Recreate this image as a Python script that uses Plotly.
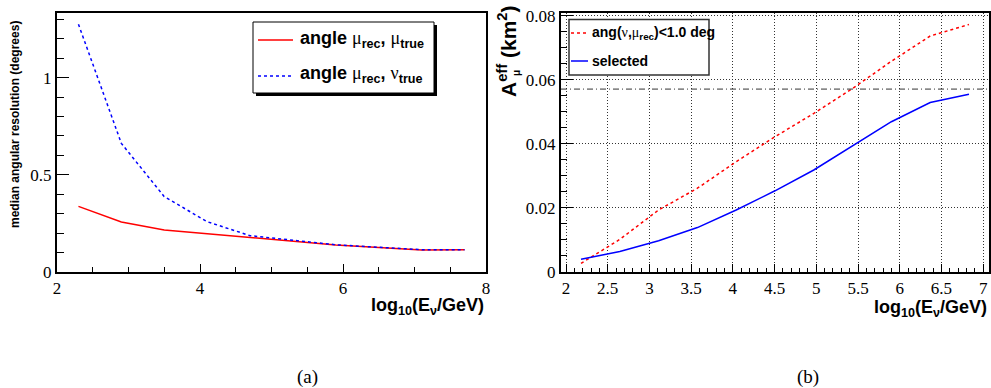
import plotly.graph_objects as go

# ---------------- data ----------------
# panel (a): median angular resolution vs log10(E/GeV)
res_x = [2.3, 2.9, 3.5, 4.1, 4.7, 5.3, 5.9, 6.5, 7.1, 7.7]
res_mu_mu = [0.338, 0.257, 0.216, 0.197, 0.178, 0.161, 0.139, 0.126, 0.113, 0.114]
res_mu_nu = [1.275, 0.662, 0.388, 0.259, 0.187, 0.162, 0.140, 0.127, 0.115, 0.115]

# panel (b): effective area vs log10(E/GeV)
aeff_x = [2.18, 2.645, 3.11, 3.575, 4.04, 4.505, 4.97, 5.435, 5.90, 6.365, 6.83]
aeff_ang = [0.0026, 0.0101, 0.0193, 0.0261, 0.0344, 0.0422, 0.0495, 0.0573, 0.0658, 0.0737, 0.0773]
aeff_sel = [0.0039, 0.0063, 0.0097, 0.0138, 0.0193, 0.0253, 0.0318, 0.0393, 0.0469, 0.0529, 0.0555]
aeff_ref_level = 0.0571

W, H = 991, 388


def fx(p):
    return p / W


def fy(p):
    return 1 - p / H


SERIF = "Liberation Serif, Times New Roman, serif"
SANS = "Liberation Sans, Arial, sans-serif"

fig = go.Figure()

fig.add_trace(go.Scatter(x=res_x, y=res_mu_mu, mode="lines",
                         line=dict(color="#ff0000", width=1.5),
                         xaxis="x", yaxis="y", showlegend=False))
fig.add_trace(go.Scatter(x=res_x, y=res_mu_nu, mode="lines",
                         line=dict(color="#0000ff", width=1.5, dash="dot"),
                         xaxis="x", yaxis="y", showlegend=False))
fig.add_trace(go.Scatter(x=aeff_x, y=aeff_ang, mode="lines",
                         line=dict(color="#ff0000", width=1.5, dash="dot"),
                         xaxis="x2", yaxis="y2", showlegend=False))
fig.add_trace(go.Scatter(x=aeff_x, y=aeff_sel, mode="lines",
                         line=dict(color="#0000ff", width=1.5),
                         xaxis="x2", yaxis="y2", showlegend=False))

common = dict(showline=True, mirror=True, linecolor="black", linewidth=2,
              ticks="inside", tickcolor="black", tickwidth=1,
              tickfont=dict(family=SERIF, size=17, color="black"),
              zeroline=False, automargin=False)

fig.update_layout(
    width=W, height=H, autosize=False,
    margin=dict(l=0, r=0, t=0, b=0, pad=0),
    paper_bgcolor="white", plot_bgcolor="white",
    font=dict(family=SERIF, size=17, color="black"),
    xaxis=dict(domain=[fx(57), fx(486)], range=[2, 8], anchor="y",
               tick0=2, dtick=2, ticklen=8, showgrid=False,
               minor=dict(dtick=0.5, ticklen=5, ticks="inside", tickcolor="black", showgrid=False),
               **common),
    yaxis=dict(domain=[fy(272), fy(13)], range=[0, 1.333], anchor="x",
               tick0=0, dtick=0.5, ticklen=12, showgrid=False,
               minor=dict(dtick=0.1, ticklen=7, ticks="inside", tickcolor="black", showgrid=False),
               **common),
    xaxis2=dict(domain=[fx(561), fx(989)], range=[1.94, 7.07], anchor="y2",
                tick0=2, dtick=0.5, ticklen=8,
                showgrid=True, gridcolor="#333333", griddash="1px,2px", gridwidth=1,
                minor=dict(dtick=0.1, ticklen=4, ticks="inside", tickcolor="black", showgrid=False),
                **common),
    yaxis2=dict(domain=[fy(271.7), fy(13.3)], range=[0, 0.0808], anchor="x2",
                tick0=0, dtick=0.02, ticklen=12,
                showgrid=True, gridcolor="#333333", griddash="1px,2px", gridwidth=1,
                minor=dict(dtick=0.005, ticklen=6, ticks="inside", tickcolor="black", showgrid=False),
                **common),
)

shapes = []
# reference level line (dash-dot) in panel b
shapes.append(dict(type="line", xref="x2 domain", yref="y2", x0=0, x1=1,
                   y0=aeff_ref_level, y1=aeff_ref_level,
                   line=dict(color="#333333", width=1, dash="6px,3px,1px,3px"), layer="above"))
# left legend: shadow + box
shapes.append(dict(type="rect", xref="paper", yref="paper",
                   x0=fx(256), x1=fx(437), y0=fy(96), y1=fy(25),
                   fillcolor="black", line=dict(width=0), layer="above"))
shapes.append(dict(type="rect", xref="paper", yref="paper",
                   x0=fx(253), x1=fx(434), y0=fy(93), y1=fy(22),
                   fillcolor="white", line=dict(color="black", width=1), layer="above"))
shapes.append(dict(type="line", xref="paper", yref="paper",
                   x0=fx(258), x1=fx(293), y0=fy(40), y1=fy(40),
                   line=dict(color="#ff0000", width=1.5), layer="above"))
shapes.append(dict(type="line", xref="paper", yref="paper",
                   x0=fx(258), x1=fx(293), y0=fy(76), y1=fy(76),
                   line=dict(color="#0000ff", width=1.5, dash="dot"), layer="above"))
# right legend box
shapes.append(dict(type="rect", xref="paper", yref="paper",
                   x0=fx(569), x1=fx(709), y0=fy(75), y1=fy(19.5),
                   fillcolor="white", line=dict(color="#333333", width=1.5), layer="above"))
shapes.append(dict(type="line", xref="paper", yref="paper",
                   x0=fx(571), x1=fx(588), y0=fy(33), y1=fy(33),
                   line=dict(color="#ff0000", width=1.5, dash="dot"), layer="above"))
shapes.append(dict(type="line", xref="paper", yref="paper",
                   x0=fx(571), x1=fx(588), y0=fy(61), y1=fy(61),
                   line=dict(color="#0000ff", width=1.5), layer="above"))
fig.update_layout(shapes=shapes)

GR = "<span style='font-family:Liberation Serif;font-weight:normal'>{}</span>"
mu = GR.format("μ")
nu = GR.format("ν")

ann = []


def add_text(text, x, y, size, xanchor="left", yanchor="middle", family=SANS, angle=0):
    ann.append(dict(text=text, x=fx(x), y=fy(y), xref="paper", yref="paper",
                    xanchor=xanchor, yanchor=yanchor, showarrow=False,
                    textangle=angle, font=dict(family=family, size=size, color="black")))


add_text("<b>angle </b>" + mu + "<sub><b>rec</b></sub><b>, </b>" + mu + "<sub><b>true</b></sub>",
         298, 40, 18)
add_text("<b>angle </b>" + mu + "<sub><b>rec</b></sub><b>, </b>" + nu + "<sub><b>true</b></sub>",
         298, 75, 18)
add_text("<b>ang(</b>" + nu + "<b>,</b>" + mu + "<sub><b>rec</b></sub><b>)&lt;1.0 deg</b>",
         590, 33, 14)
add_text("<b>selected</b>", 590, 61, 14)

# axis titles
add_text("<b>log<sub>10</sub>(E<sub>ν</sub>/GeV)</b>", 486, 306, 18, xanchor="right")
add_text("<b>log<sub>10</sub>(E<sub>ν</sub>/GeV)</b>", 989, 308, 18, xanchor="right")
add_text("<b>median angular resolution (degrees)</b>", 15, 125, 12, xanchor="center", angle=-90)
add_text("<b>A<sup>eff</sup> (km<sup>2</sup>)</b>", 507, 52, 21, xanchor="center", angle=-90)
add_text("<b>μ</b>", 516, 73, 10, xanchor="center", angle=-90)

# panel labels
add_text("(a)", 307, 377, 19, xanchor="center", family=SERIF)
add_text("(b)", 808, 377, 19, xanchor="center", family=SERIF)

fig.update_layout(annotations=ann)

fig.write_html("out.html", config={"displayModeBar": False},
               post_script="document.body.style.margin='0';document.body.style.overflow='hidden';")
